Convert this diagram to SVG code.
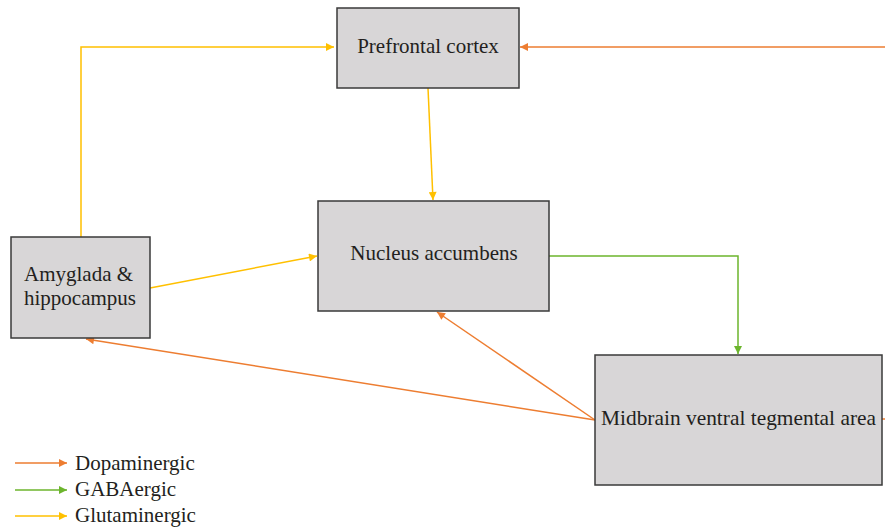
<svg xmlns="http://www.w3.org/2000/svg" width="885" height="529" viewBox="0 0 885 529">
<style>
.node rect{fill:#d8d6d7;stroke:#3a3a3a;stroke-width:1.5}
text{font-family:"Liberation Serif",serif;font-size:21px;fill:#231f20}
.o{stroke:#ed7d31;stroke-width:1.5;fill:none}
.g{stroke:#6cb52d;stroke-width:1.5;fill:none}
.y{stroke:#ffc000;stroke-width:1.5;fill:none}
</style>
<defs>
<marker id="ao" viewBox="0 0 10 10" refX="10" refY="5" markerWidth="10" markerHeight="8" markerUnits="userSpaceOnUse" orient="auto"><path d="M0,0L10,5L0,10z" fill="#ed7d31"/></marker>
<marker id="ag" viewBox="0 0 10 10" refX="10" refY="5" markerWidth="10" markerHeight="8" markerUnits="userSpaceOnUse" orient="auto"><path d="M0,0L10,5L0,10z" fill="#6cb52d"/></marker>
<marker id="ay" viewBox="0 0 10 10" refX="10" refY="5" markerWidth="10" markerHeight="8" markerUnits="userSpaceOnUse" orient="auto"><path d="M0,0L10,5L0,10z" fill="#ffc000"/></marker>
</defs>
<g id="connectors">
<path class="y" d="M81,237V47H334" marker-end="url(#ay)"/>
<path class="o" d="M885,47H520" marker-end="url(#ao)"/>
<path class="y" d="M428,88L433,200" marker-end="url(#ay)"/>
<path class="y" d="M150,288L317,256" marker-end="url(#ay)"/>
<path class="g" d="M549,256H738V354" marker-end="url(#ag)"/>
<path class="o" d="M595,420L437,312" marker-end="url(#ao)"/>
<path class="o" d="M595,420L86,339" marker-end="url(#ao)"/>
<path class="o" d="M882,419H885"/>
</g>
<g id="prefrontal" class="node"><rect x="337" y="8" width="182" height="80"/><text x="428" y="53" text-anchor="middle">Prefrontal cortex</text></g>
<g id="nucleus" class="node"><rect x="318" y="201" width="231" height="110"/><text x="434" y="260" text-anchor="middle">Nucleus accumbens</text></g>
<g id="amygdala" class="node"><rect x="11" y="237" width="139" height="101"/><text x="24" y="281">Amyglada &amp;</text><text x="24" y="305">hippocampus</text></g>
<g id="midbrain" class="node"><rect x="595" y="355" width="287" height="130"/><text x="601" y="425" textLength="275" lengthAdjust="spacingAndGlyphs">Midbrain ventral tegmental area</text></g>
<g id="legend">
<path class="o" d="M15,463H67" marker-end="url(#ao)"/>
<path class="g" d="M15,490H67" marker-end="url(#ag)"/>
<path class="y" d="M15,516H67" marker-end="url(#ay)"/>
<text x="75" y="470">Dopaminergic</text>
<text x="75" y="496">GABAergic</text>
<text x="75" y="522">Glutaminergic</text>
</g>
</svg>
